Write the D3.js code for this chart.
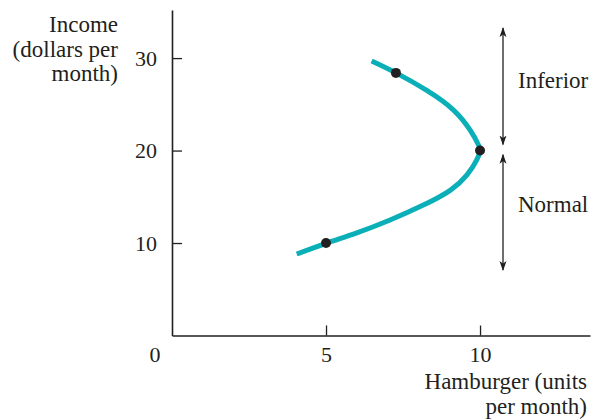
<!DOCTYPE html>
<html><head><meta charset="utf-8">
<script src="https://cdn.jsdelivr.net/npm/d3@7"></script>
<style>body{margin:0;background:#fff}text{font-family:"Liberation Serif","Times New Roman",serif;fill:#231f20}</style>
</head><body>
<svg id="c" width="591" height="420"></svg>
<script>
const curveX = [4.05, 5.0, 6.0, 7.08, 8.16, 9.03, 9.57, 9.89, 10.0, 9.95, 9.68, 9.13, 8.27, 7.27, 6.48];
const curveY = [8.81, 9.97, 11.1, 12.49, 14.1, 15.7, 17.35, 18.97, 19.95, 20.6, 22.2, 24.4, 26.5, 28.4, 29.68];
const dotX = [5, 10, 7.27];
const dotY = [10, 20, 28.4];
const xTicks = [5, 10];
const yTicks = [10, 20, 30];
const yLabel = ["Income", "(dollars per", "month)"];
const xLabel = ["Hamburger (units", "per month)"];
const bands = [{name:"Inferior", from:20.65, to:33.24, labelAt:27.6}, {name:"Normal", from:7.08, to:19.55, labelAt:14.1}];

const svg = d3.select("#c");
const x = d3.scaleLinear().domain([0, 13.57]).range([172, 590]);
const y = d3.scaleLinear().domain([0, 35.2]).range([335.5, 10]);
const ink = "#231f20";
const fs = 23, tfs = 22;

const gx = svg.append("g").attr("transform", "translate(0,335.5)")
  .call(d3.axisBottom(x).tickValues(xTicks).tickSizeInner(-10).tickSizeOuter(0).tickPadding(10.5).tickFormat(d3.format("d")));
const gy = svg.append("g").attr("transform", "translate(172,0)")
  .call(d3.axisLeft(y).tickValues(yTicks).tickSizeInner(-10).tickSizeOuter(0).tickPadding(15).tickFormat(d3.format("d")));
[gx, gy].forEach(g => {
  g.select(".domain").attr("stroke", ink).attr("stroke-width", 1.6);
  g.selectAll(".tick line").attr("stroke", ink).attr("stroke-width", 1.3);
  g.selectAll(".tick text").attr("font-size", tfs).attr("font-family", null).attr("fill", ink);
});
svg.append("text").attr("x", 155).attr("y", 362).attr("text-anchor", "middle").attr("font-size", tfs).text("0");

svg.append("g").selectAll("text").data(yLabel).join("text")
  .attr("x", 118).attr("y", (d, i) => 32 + i * 24.5).attr("text-anchor", "end").attr("font-size", fs).text(d => d);
svg.append("g").selectAll("text").data(xLabel).join("text")
  .attr("x", 587).attr("y", (d, i) => 389 + i * 25).attr("text-anchor", "end").attr("font-size", fs).text(d => d);

const pts = curveX.map((d, i) => [d, curveY[i]]);
svg.append("path").datum(pts)
  .attr("d", d3.line().x(d => x(d[0])).y(d => y(d[1])).curve(d3.curveNatural))
  .attr("fill", "none").attr("stroke", "#0aafb8").attr("stroke-width", 5);

svg.append("g").selectAll("circle").data(dotX).join("circle")
  .attr("cx", d => x(d)).attr("cy", (d, i) => y(dotY[i])).attr("r", 5).attr("fill", ink);

const defs = svg.append("defs");
defs.append("marker").attr("id", "ah").attr("viewBox", "0 0 10 10").attr("refX", 9).attr("refY", 5)
  .attr("markerWidth", 10).attr("markerHeight", 10).attr("markerUnits", "userSpaceOnUse").attr("orient", "auto-start-reverse")
  .append("path").attr("d", "M0,1.5 L10,5 L0,8.5 L2.5,5 Z").attr("fill", ink);
const ax = 503;
svg.append("g").selectAll("line").data(bands).join("line")
  .attr("x1", ax).attr("x2", ax).attr("y1", d => y(d.to)).attr("y2", d => y(d.from))
  .attr("stroke", ink).attr("stroke-width", 1.3)
  .attr("marker-start", "url(#ah)").attr("marker-end", "url(#ah)");
svg.append("g").selectAll("text").data(bands).join("text")
  .attr("x", 518).attr("y", d => y(d.labelAt)).attr("dy", "0.32em").attr("font-size", fs).text(d => d.name);
</script>
</body></html>
